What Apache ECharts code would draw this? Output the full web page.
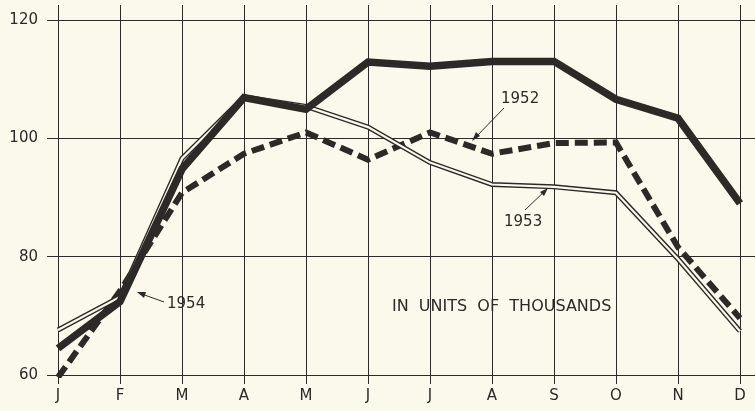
<!DOCTYPE html>
<html>
<head>
<meta charset="utf-8">
<script src="https://cdn.jsdelivr.net/npm/echarts@6/dist/echarts.min.js"></script>
<style>
  html, body { margin: 0; padding: 0; background: #fbf9ec; }
  #main { width: 755px; height: 411px; }
</style>
</head>
<body>
<div id="main"></div>
<script>
// months along the bottom
const months = ['J', 'F', 'M', 'A', 'M', 'J', 'J', 'A', 'S', 'O', 'N', 'D'];
const yTicks = [60, 80, 100, 120];

// values, in thousands
const data1954 = [64.5, 72.4, 94.8, 106.9, 104.9, 112.9, 112.2, 113, 113, 106.6, 103.4, 89];
const data1953 = [67.6, 73.2, 96.6, 107, 105.4, 101.9, 95.9, 92.2, 91.8, 90.8, 79.6, 67.4];
const data1952 = [59.6, 74.2, 90.8, 97.4, 101, 96.4, 101, 97.4, 99.2, 99.3, 81.6, 69.6];

const ink = '#2b2a27';
const paper = '#fbf9ec';
const font = 'DejaVu Sans';

const chart = echarts.init(document.getElementById('main'));

const option = {
  backgroundColor: paper,
  animation: false,
  textStyle: { fontFamily: font },
  grid: { left: 58, right: 15, top: 20, bottom: 36 },
  xAxis: [
    {
      type: 'category',
      boundaryGap: false,
      data: months,
      axisLine: { show: false },
      axisTick: { show: true, alignWithLabel: true, length: 9, lineStyle: { color: ink, width: 1 } },
      axisLabel: { color: ink, fontSize: 15, margin: 14 },
      splitLine: { show: true, lineStyle: { color: ink, width: 1 } }
    },
    {
      // top axis only to let the verticals run past the 120 line
      type: 'category',
      position: 'top',
      boundaryGap: false,
      data: months,
      axisLine: { show: false },
      axisTick: { show: true, length: 15, lineStyle: { color: ink, width: 1 } },
      axisLabel: { show: false },
      splitLine: { show: false }
    }
  ],
  yAxis: [
    {
      type: 'value',
      min: yTicks[0],
      max: yTicks[yTicks.length - 1],
      interval: 20,
      axisLine: { show: false },
      axisTick: { show: true, length: 11, lineStyle: { color: ink, width: 1 } },
      axisLabel: { color: ink, fontSize: 15, margin: 20 },
      splitLine: { show: true, lineStyle: { color: ink, width: 1 } }
    },
    {
      // right side: horizontals run to the edge
      type: 'value',
      position: 'right',
      min: yTicks[0],
      max: yTicks[yTicks.length - 1],
      interval: 20,
      axisLine: { show: false },
      axisTick: { show: true, length: 15, lineStyle: { color: ink, width: 1 } },
      axisLabel: { show: false },
      splitLine: { show: false }
    }
  ],
  series: [
    {
      name: '1952',
      type: 'line',
      data: data1952,
      showSymbol: false,
      z: 3,
      lineStyle: { color: ink, width: 6, type: [13, 6], cap: 'butt', join: 'miter' }
    },
    {
      name: '1953',
      type: 'line',
      data: data1953,
      showSymbol: false,
      z: 4,
      lineStyle: { color: ink, width: 5, join: 'miter' }
    },
    {
      // white core making the 1953 line look doubled
      name: '1953 core',
      type: 'line',
      data: data1953,
      showSymbol: false,
      z: 5,
      lineStyle: { color: paper, width: 2.2, join: 'miter' }
    },
    {
      name: '1954',
      type: 'line',
      data: data1954,
      showSymbol: false,
      z: 6,
      lineStyle: { color: ink, width: 7.5, join: 'miter' }
    }
  ],
  graphic: [
    { type: 'text', left: 392, top: 299, style: { text: 'IN  UNITS  OF  THOUSANDS', fill: ink, font: '16px ' + font } },
    { type: 'text', left: 501, top: 92, style: { text: '1952', fill: ink, font: '15px ' + font } },
    { type: 'text', left: 504, top: 215, style: { text: '1953', fill: ink, font: '15px ' + font } },
    { type: 'text', left: 167, top: 297, style: { text: '1954', fill: ink, font: '15px ' + font } },
    { type: 'line', shape: { x1: 504, y1: 108, x2: 474, y2: 139 }, style: { stroke: ink, lineWidth: 1 } },
    { type: 'polygon', shape: { points: [[472, 141], [476, 132], [480, 136]] }, style: { fill: ink } },
    { type: 'line', shape: { x1: 525, y1: 210, x2: 546, y2: 190 }, style: { stroke: ink, lineWidth: 1 } },
    { type: 'polygon', shape: { points: [[548, 188], [540, 192], [544, 196]] }, style: { fill: ink } },
    { type: 'line', shape: { x1: 164, y1: 302, x2: 139, y2: 293 }, style: { stroke: ink, lineWidth: 1 } },
    { type: 'polygon', shape: { points: [[137, 292], [146, 292], [144, 298]] }, style: { fill: ink } }
  ]
};

chart.setOption(option);
</script>
</body>
</html>
